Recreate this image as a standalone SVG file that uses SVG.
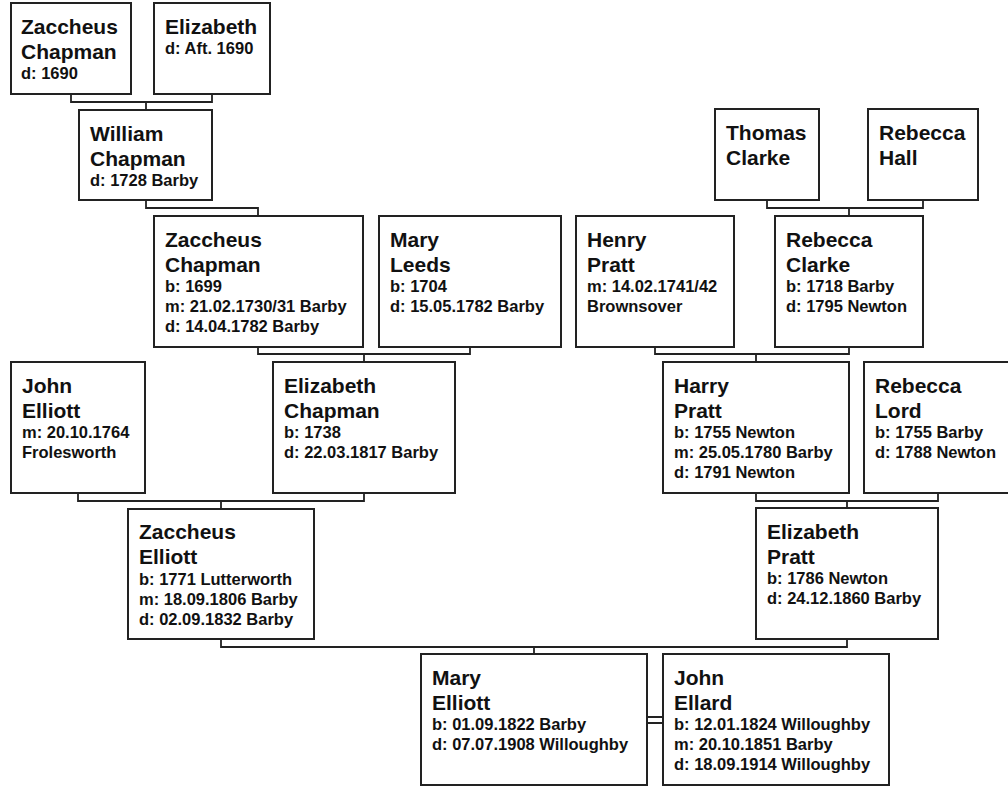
<svg xmlns="http://www.w3.org/2000/svg" width="1008" height="786" viewBox="0 0 1008 786">
<style>
.box{fill:#fff;stroke:#222;stroke-width:2}
.n{font-family:"Liberation Sans",Arial,sans-serif;font-weight:bold;font-size:21px;fill:#111}
.d{font-family:"Liberation Sans",Arial,sans-serif;font-weight:bold;font-size:16.5px;fill:#111}
.c{fill:none;stroke:#222;stroke-width:1.8}
</style>
<rect x="0" y="0" width="1008" height="786" fill="#fff"/>
<g id="connectors">
<path class="c" d="M71,94 V102 H212 V94 M146,102 V110"/>
<path class="c" d="M146,200 V208 H258 V216"/>
<path class="c" d="M258,347 V354 H470 V347 M364,354 V362"/>
<path class="c" d="M767,200 V208 H923 V200 M849,208 V216"/>
<path class="c" d="M655,347 V354 H849 V347 M756,354 V362"/>
<path class="c" d="M78,493 V501 H364 V493 M221,501 V509"/>
<path class="c" d="M756,493 V501 H938 V493 M847,501 V508"/>
<path class="c" d="M221,639 V647 H847 V639 M534,647 V654"/>
<path class="c" d="M647,717 H663 M647,723 H663"/>
</g>
<g id="zaccheus-chapman-1">
<rect class="box" x="11" y="3" width="120" height="91"/>
<text class="n" x="21" y="34">Zaccheus</text>
<text class="n" x="21" y="59">Chapman</text>
<text class="d" x="21" y="79">d: 1690</text>
</g>
<g id="elizabeth-1">
<rect class="box" x="154" y="3" width="116" height="91"/>
<text class="n" x="165" y="34">Elizabeth</text>
<text class="d" x="165" y="54">d: Aft. 1690</text>
</g>
<g id="william-chapman">
<rect class="box" x="79" y="110" width="133" height="90"/>
<text class="n" x="90" y="141">William</text>
<text class="n" x="90" y="166">Chapman</text>
<text class="d" x="90" y="186">d: 1728 Barby</text>
</g>
<g id="zaccheus-chapman-2">
<rect class="box" x="154" y="216" width="209" height="131"/>
<text class="n" x="165" y="247">Zaccheus</text>
<text class="n" x="165" y="272">Chapman</text>
<text class="d" x="165" y="292">b: 1699</text>
<text class="d" x="165" y="312">m: 21.02.1730/31 Barby</text>
<text class="d" x="165" y="332">d: 14.04.1782 Barby</text>
</g>
<g id="mary-leeds">
<rect class="box" x="379" y="216" width="182" height="131"/>
<text class="n" x="390" y="247">Mary</text>
<text class="n" x="390" y="272">Leeds</text>
<text class="d" x="390" y="292">b: 1704</text>
<text class="d" x="390" y="312">d: 15.05.1782 Barby</text>
</g>
<g id="thomas-clarke">
<rect class="box" x="715" y="109" width="104" height="91"/>
<text class="n" x="726" y="140">Thomas</text>
<text class="n" x="726" y="165">Clarke</text>
</g>
<g id="rebecca-hall">
<rect class="box" x="868" y="109" width="110" height="91"/>
<text class="n" x="879" y="140">Rebecca</text>
<text class="n" x="879" y="165">Hall</text>
</g>
<g id="henry-pratt">
<rect class="box" x="576" y="216" width="158" height="131"/>
<text class="n" x="587" y="247">Henry</text>
<text class="n" x="587" y="272">Pratt</text>
<text class="d" x="587" y="292">m: 14.02.1741/42</text>
<text class="d" x="587" y="312">Brownsover</text>
</g>
<g id="rebecca-clarke">
<rect class="box" x="775" y="216" width="148" height="131"/>
<text class="n" x="786" y="247">Rebecca</text>
<text class="n" x="786" y="272">Clarke</text>
<text class="d" x="786" y="292">b: 1718 Barby</text>
<text class="d" x="786" y="312">d: 1795 Newton</text>
</g>
<g id="john-elliott">
<rect class="box" x="11" y="362" width="134" height="131"/>
<text class="n" x="22" y="393">John</text>
<text class="n" x="22" y="418">Elliott</text>
<text class="d" x="22" y="438">m: 20.10.1764</text>
<text class="d" x="22" y="458">Frolesworth</text>
</g>
<g id="elizabeth-chapman">
<rect class="box" x="273" y="362" width="182" height="131"/>
<text class="n" x="284" y="393">Elizabeth</text>
<text class="n" x="284" y="418">Chapman</text>
<text class="d" x="284" y="438">b: 1738</text>
<text class="d" x="284" y="458">d: 22.03.1817 Barby</text>
</g>
<g id="harry-pratt">
<rect class="box" x="663" y="362" width="186" height="131"/>
<text class="n" x="674" y="393">Harry</text>
<text class="n" x="674" y="418">Pratt</text>
<text class="d" x="674" y="438">b: 1755 Newton</text>
<text class="d" x="674" y="458">m: 25.05.1780 Barby</text>
<text class="d" x="674" y="478">d: 1791 Newton</text>
</g>
<g id="rebecca-lord">
<rect class="box" x="864" y="362" width="148" height="131"/>
<text class="n" x="875" y="393">Rebecca</text>
<text class="n" x="875" y="418">Lord</text>
<text class="d" x="875" y="438">b: 1755 Barby</text>
<text class="d" x="875" y="458">d: 1788 Newton</text>
</g>
<g id="zaccheus-elliott">
<rect class="box" x="128" y="509" width="186" height="130"/>
<text class="n" x="139" y="539">Zaccheus</text>
<text class="n" x="139" y="564">Elliott</text>
<text class="d" x="139" y="585">b: 1771 Lutterworth</text>
<text class="d" x="139" y="605">m: 18.09.1806 Barby</text>
<text class="d" x="139" y="625">d: 02.09.1832 Barby</text>
</g>
<g id="elizabeth-pratt">
<rect class="box" x="756" y="508" width="182" height="131"/>
<text class="n" x="767" y="539">Elizabeth</text>
<text class="n" x="767" y="564">Pratt</text>
<text class="d" x="767" y="584">b: 1786 Newton</text>
<text class="d" x="767" y="604">d: 24.12.1860 Barby</text>
</g>
<g id="mary-elliott">
<rect class="box" x="421" y="654" width="226" height="131"/>
<text class="n" x="432" y="685">Mary</text>
<text class="n" x="432" y="710">Elliott</text>
<text class="d" x="432" y="730">b: 01.09.1822 Barby</text>
<text class="d" x="432" y="750">d: 07.07.1908 Willoughby</text>
</g>
<g id="john-ellard">
<rect class="box" x="663" y="654" width="226" height="131"/>
<text class="n" x="674" y="685">John</text>
<text class="n" x="674" y="710">Ellard</text>
<text class="d" x="674" y="730">b: 12.01.1824 Willoughby</text>
<text class="d" x="674" y="750">m: 20.10.1851 Barby</text>
<text class="d" x="674" y="770">d: 18.09.1914 Willoughby</text>
</g>
</svg>
